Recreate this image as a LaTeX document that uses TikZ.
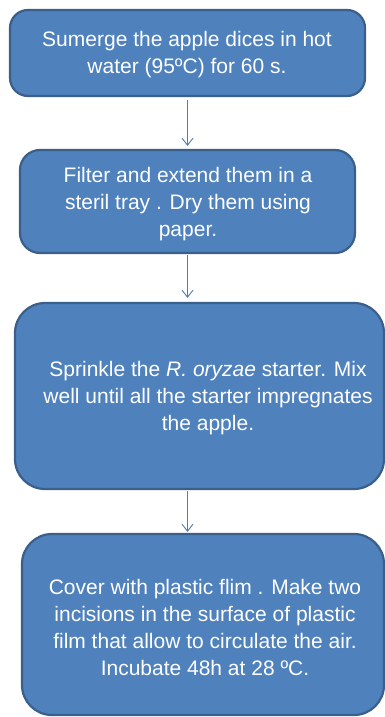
\documentclass[tikz,border=0pt]{standalone}
\usepackage{fontspec}
\setmainfont{Liberation Sans}
\usetikzlibrary{arrows.meta}
\definecolor{boxfill}{HTML}{4F81BD}
\definecolor{boxline}{HTML}{3A5F8B}
\definecolor{arrowcol}{HTML}{4A7EBB}
\begin{document}
\begin{tikzpicture}[x=1pt,y=-1pt,
  stepbox/.style={draw=boxline,line width=2.2pt,fill=boxfill,rounded corners=#1,inner sep=0pt},
  txt/.style={text=white,font=\fontsize{21}{27}\selectfont,align=center,inner sep=0pt},
  flow/.style={draw=arrowcol,line width=0.9pt,-{Straight Barb[length=7pt,width=11pt]}}]
\useasboundingbox (0,0) rectangle (385,717);
\node[stepbox=18pt,minimum width=355pt,minimum height=86pt] (b1) at (187.5,53) {};
\node[stepbox=20pt,minimum width=335pt,minimum height=103pt] (b2) at (187.5,201.5) {};
\node[stepbox=30pt,minimum width=369pt,minimum height=186pt] (b3) at (199.5,396) {};
\node[stepbox=30pt,minimum width=362pt,minimum height=181pt] (b4) at (203,624.5) {};
\node[txt] (t1) at (187,55) {Sumerge the apple dices in hot\\water (95ºC) for 60 s.};
\node[txt] (t2) at (188,204.5) {Filter and extend them in a\\steril tray . Dry them using\\paper.};
\node[txt] (t3) at (208,398) {Sprinkle the \textit{R. oryzae} starter. Mix\\well until all the starter impregnates\\the apple.};
\node[txt] (t4) at (205,627) {Cover with plastic flim . Make two\\incisions in the surface of plastic\\film that allow to circulate the air.\\Incubate 48h at 28 ºC.};
\draw[flow,shorten <=3pt,shorten >=3pt] (b1.south) -- (b1.south |- b2.north);
\draw[flow,shorten <=1pt,shorten >=4pt] (b2.south) -- (b2.south |- b3.north);
\draw[flow,shorten <=1pt,shorten >=1pt] (b3.south -| b2.south) -- (b4.north -| b2.south);
\end{tikzpicture}
\end{document}
